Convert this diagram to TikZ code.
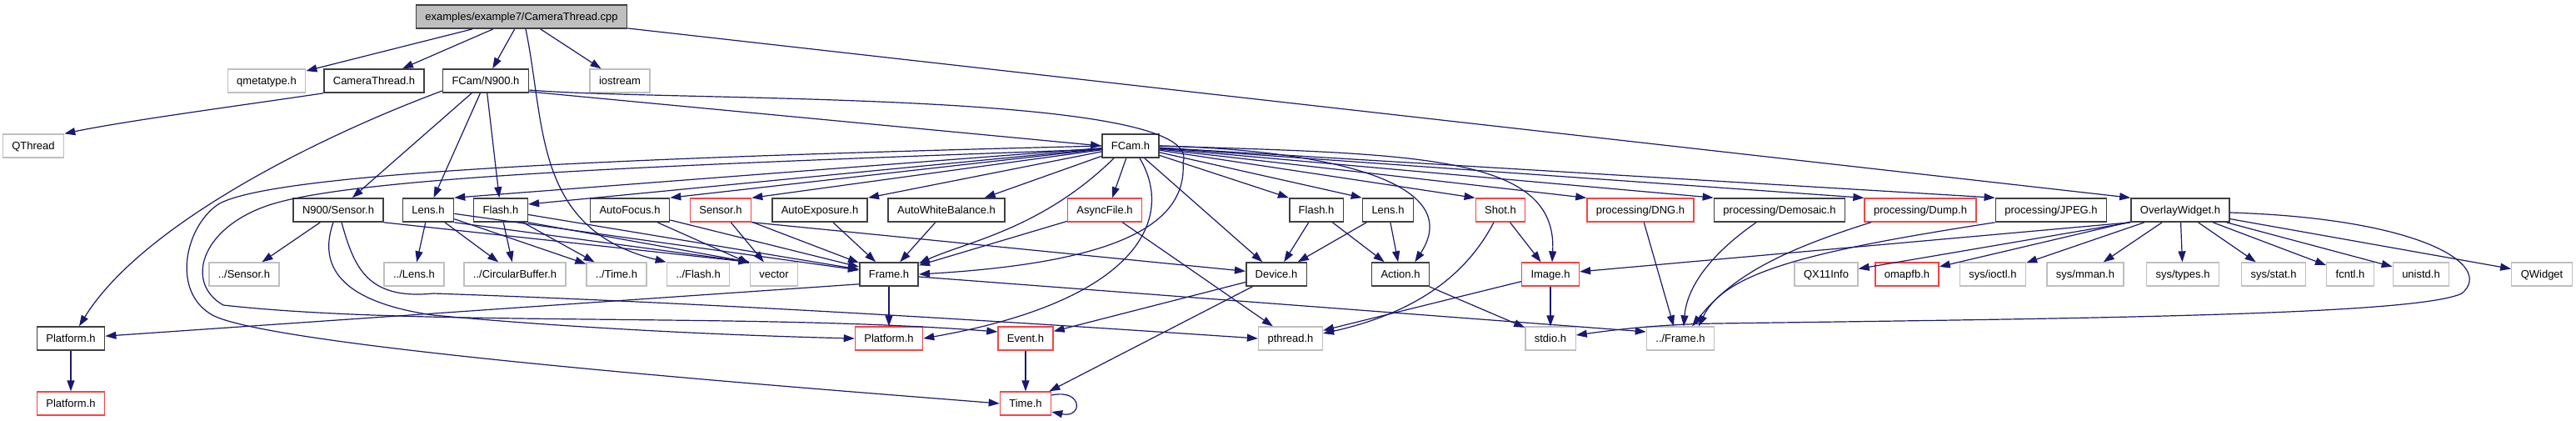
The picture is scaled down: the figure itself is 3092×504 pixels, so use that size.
\documentclass[tikz,border=0pt]{standalone}
\usepackage{fontspec}
\setmainfont{Liberation Sans}
\usetikzlibrary{arrows.meta}
\definecolor{Navy}{HTML}{191970}
\definecolor{Dark}{HTML}{404040}
\definecolor{Ext}{HTML}{BFBFBF}
\definecolor{Trunc}{HTML}{FF4040}
\definecolor{RootFill}{HTML}{BFBFBF}

\begin{document}
\begin{tikzpicture}[
  x=1pt,y=-1pt,
  box/.style={rectangle,fill=white,inner xsep=11pt,inner ysep=0pt,minimum height=28pt,text height=11pt,text depth=3pt,font=\fontsize{13pt}{15pt}\selectfont},
  hdr/.style={box,draw=Dark,line width=1.6pt},
  ext/.style={box,draw=Ext,line width=1.3pt},
  trunc/.style={box,draw=Trunc,line width=1.3pt},
  root/.style={box,draw=Dark,fill=RootFill,line width=1.6pt},
  arrow/.style={-{Triangle[length=13pt,width=9pt]},line width=1.2pt,draw=Navy}
]
\useasboundingbox (0,0) rectangle (3092,504);
\fill[white] (0,0) rectangle (3092,504);
\node[root] (cpp) at (626,20) {examples/example7/CameraThread.cpp};
\node[ext] (qmeta) at (320,97) {qmetatype.h};
\node[hdr] (camthread) at (449,97) {CameraThread.h};
\node[hdr] (n900) at (583,97) {FCam/N900.h};
\node[ext] (iostream) at (744,97) {iostream};
\node[ext] (qthread) at (40,175) {QThread};
\node[hdr] (fcam) at (1357,175) {FCam.h};
\node[hdr] (nsensor) at (406,252) {N900/Sensor.h};
\node[hdr] (lensa) at (514,252) {Lens.h};
\node[hdr] (flasha) at (601,252) {Flash.h};
\node[hdr] (autofocus) at (756,252) {AutoFocus.h};
\node[trunc] (sensor) at (865,252) {Sensor.h};
\node[hdr] (autoexp) at (984,252) {AutoExposure.h};
\node[hdr] (autowb) at (1136,252) {AutoWhiteBalance.h};
\node[trunc] (asyncfile) at (1326,252) {AsyncFile.h};
\node[hdr] (flashb) at (1580,252) {Flash.h};
\node[hdr] (lensb) at (1666,252) {Lens.h};
\node[trunc] (shot) at (1801,252) {Shot.h};
\node[trunc] (dng) at (1969,252) {processing/DNG.h};
\node[hdr] (demosaic) at (2136,252) {processing/Demosaic.h};
\node[trunc] (dump) at (2305,252) {processing/Dump.h};
\node[hdr] (jpeg) at (2462,252) {processing/JPEG.h};
\node[hdr] (overlay) at (2617,252) {OverlayWidget.h};
\node[ext] (dsensor) at (293,329) {../Sensor.h};
\node[ext] (dlens) at (497,329) {../Lens.h};
\node[ext] (cbuffer) at (618,329) {../CircularBuffer.h};
\node[ext] (dtime) at (740,329) {../Time.h};
\node[ext] (dflash) at (838,329) {../Flash.h};
\node[ext] (vector) at (929,329) {vector};
\node[hdr] (frame) at (1067,329) {Frame.h};
\node[hdr] (device) at (1532,329) {Device.h};
\node[hdr] (action) at (1681,329) {Action.h};
\node[trunc] (image) at (1861,329) {Image.h};
\node[ext] (qx11) at (2192,329) {QX11Info};
\node[trunc] (omapfb) at (2289,329) {omapfb.h};
\node[ext] (ioctl) at (2392,329) {sys/ioctl.h};
\node[ext] (mman) at (2503,329) {sys/mman.h};
\node[ext] (types) at (2620,329) {sys/types.h};
\node[ext] (stat) at (2729,329) {sys/stat.h};
\node[ext] (fcntl) at (2821,329) {fcntl.h};
\node[ext] (unistd) at (2906,329) {unistd.h};
\node[ext] (qwidget) at (3051,329) {QWidget};
\node[hdr] (platb) at (85,406) {Platform.h};
\node[trunc] (platm) at (1067,406) {Platform.h};
\node[trunc] (event) at (1231,406) {Event.h};
\node[ext] (pthread) at (1549,406) {pthread.h};
\node[ext] (stdio) at (1861,406) {stdio.h};
\node[ext] (dframe) at (2017,406) {../Frame.h};
\node[trunc] (platr) at (85,484) {Platform.h};
\node[trunc] (time) at (1231,484) {Time.h};
\draw[arrow] (cpp) -- (qmeta);
\draw[arrow] (cpp) -- (camthread);
\draw[arrow] (cpp) -- (n900);
\draw[arrow] (cpp) -- (iostream);
\draw[arrow] (cpp) -- (overlay.north west);
\draw[arrow] ([xshift=5pt]cpp.south) .. controls (655,150) and (640,275) .. (dflash.north west);
\draw[arrow] (camthread.south west) .. controls (300,125) and (150,145) .. (qthread.north east);
\draw[arrow] ([yshift=-13pt]n900.east) -- (fcam.west);
\draw[arrow] ([yshift=-11pt]n900.east) .. controls (800,122) and (1450,108) .. (1420,195) .. controls (1425,270) and (1340,315) .. (frame.east);
\draw[arrow] (n900) -- (nsensor);
\draw[arrow] (n900) -- (lensa);
\draw[arrow] (n900) -- (flasha);
\draw[arrow] ([yshift=-12pt]n900.west) .. controls (380,165) and (170,270) .. ([xshift=10pt]platb.north);
\draw[arrow] (fcam) -- (lensa.north east);
\draw[arrow] (fcam) -- ([yshift=7pt]flasha.east);
\draw[arrow] (fcam) -- (autofocus.north east);
\draw[arrow] (fcam) -- (sensor.north east);
\draw[arrow] (fcam) -- (autoexp.north east);
\draw[arrow] (fcam) -- ([xshift=-25pt]autowb.north east);
\draw[arrow] (fcam) -- ([xshift=9pt]asyncfile.north);
\draw[arrow] (fcam) -- (flashb.north west);
\draw[arrow] (fcam) -- (lensb.north west);
\draw[arrow] (fcam) -- (shot.north west);
\draw[arrow] (fcam) -- (dng.north west);
\draw[arrow] (fcam) -- (demosaic.north west);
\draw[arrow] (fcam) -- (dump.north west);
\draw[arrow] (fcam) -- (jpeg.north west);
\draw[arrow] ([xshift=-20pt]fcam.south) .. controls (1250,275) and (1160,290) .. ([yshift=13pt]frame.east);
\draw[arrow] (fcam) -- (device);
\draw[arrow] (fcam.east) .. controls (1600,180) and (1760,220) .. ([xshift=-18pt]action.north east);
\draw[arrow] (fcam.east) .. controls (1700,185) and (1870,185) .. ([xshift=2pt]image.north);
\draw[arrow] ([xshift=11pt]fcam.south) .. controls (1410,260) and (1370,360) .. (platm.east);
\draw[arrow] (fcam.west) .. controls (800,188) and (330,205) .. (262,245) .. controls (222,272) and (205,350) .. (255,378) .. controls (330,418) and (1000,468) .. (time.west);
\draw[arrow] ([yshift=-4pt]fcam.west) .. controls (800,198) and (420,212) .. (320,247) .. controls (240,275) and (222,340) .. (268,366) .. controls (500,392) and (900,375) .. ([yshift=8pt]event.west);
\draw[arrow] (nsensor) -- (dsensor);
\draw[arrow] (nsensor.south east) -- (vector.north west);
\draw[arrow] ([xshift=-6pt]nsensor.south) .. controls (385,310) and (395,360) .. (520,378) .. controls (700,395) and (900,403) .. (platm.west);
\draw[arrow] ([xshift=4pt]nsensor.south) .. controls (425,320) and (440,360) .. (520,352) .. controls (900,365) and (1300,392) .. (pthread.west);
\draw[arrow] (lensa) -- (dlens);
\draw[arrow] (lensa) -- (cbuffer);
\draw[arrow] (lensa) -- (dtime);
\draw[arrow] (lensa.south east) -- (vector.north west);
\draw[arrow] (lensa) -- (frame);
\draw[arrow] (flasha) -- (cbuffer);
\draw[arrow] (flasha) -- (dtime);
\draw[arrow] (flasha.south east) -- (vector.north west);
\draw[arrow] (flasha) -- (frame);
\draw[arrow] (autofocus) -- (vector);
\draw[arrow] (autofocus) -- (frame);
\draw[arrow] (sensor) -- (vector);
\draw[arrow] (sensor) -- (frame);
\draw[arrow] (sensor.south east) -- (device);
\draw[arrow] (autoexp) -- (frame);
\draw[arrow] (autowb) -- (frame);
\draw[arrow] (asyncfile) -- (frame);
\draw[arrow] (asyncfile) -- (pthread);
\draw[arrow] (flashb) -- (device);
\draw[arrow] (flashb) -- (action);
\draw[arrow] (lensb) -- (device);
\draw[arrow] (lensb) -- (action);
\draw[arrow] (shot) -- (image);
\draw[arrow] ([xshift=-8pt]shot.south) .. controls (1760,330) and (1700,375) .. ([yshift=6pt]pthread.east);
\draw[arrow] (dng) -- ([xshift=-8pt]dframe.north);
\draw[arrow] ([xshift=-28pt]demosaic.south) .. controls (2060,300) and (2025,340) .. ([xshift=4pt]dframe.north);
\draw[arrow] ([xshift=-59pt]dump.south) .. controls (2140,300) and (2080,330) .. ([xshift=14pt]dframe.north);
\draw[arrow] (jpeg.south west) .. controls (2180,300) and (2070,325) .. ([xshift=22pt]dframe.north);
\draw[arrow] (overlay.south west) -- (qx11);
\draw[arrow] (overlay) -- (omapfb);
\draw[arrow] (overlay) -- (ioctl);
\draw[arrow] (overlay) -- (mman);
\draw[arrow] (overlay) -- (types);
\draw[arrow] (overlay) -- (stat);
\draw[arrow] (overlay) -- (fcntl);
\draw[arrow] (overlay) -- (unistd);
\draw[arrow] (overlay) -- (qwidget);
\draw[arrow] (overlay.south west) -- (image);
\draw[arrow] ([yshift=-3pt]overlay.east) .. controls (2905,262) and (2995,318) .. (2955,352) .. controls (2900,378) and (2500,382) .. (2060,388) .. controls (1990,389) and (1935,396) .. ([yshift=4pt]stdio.east);
\draw[arrow] ([yshift=3pt]frame.south west) -- (platb);
\draw[arrow] (frame) -- (platm);
\draw[arrow] ([yshift=-3pt]frame.east) -- ([yshift=8pt]dframe.west);
\draw[arrow] (device) -- (event);
\draw[arrow] (device) -- (time);
\draw[arrow] (action) -- (stdio);
\draw[arrow] (image) -- (stdio);
\draw[arrow] (image) -- (pthread);
\draw[arrow] (event) -- (time);
\draw[arrow] ([yshift=10pt]time.east) .. controls (1300,466) and (1300,502) .. ([yshift=-10pt]time.east);
\draw[arrow] (platb) -- (platr);
\end{tikzpicture}
\end{document}
